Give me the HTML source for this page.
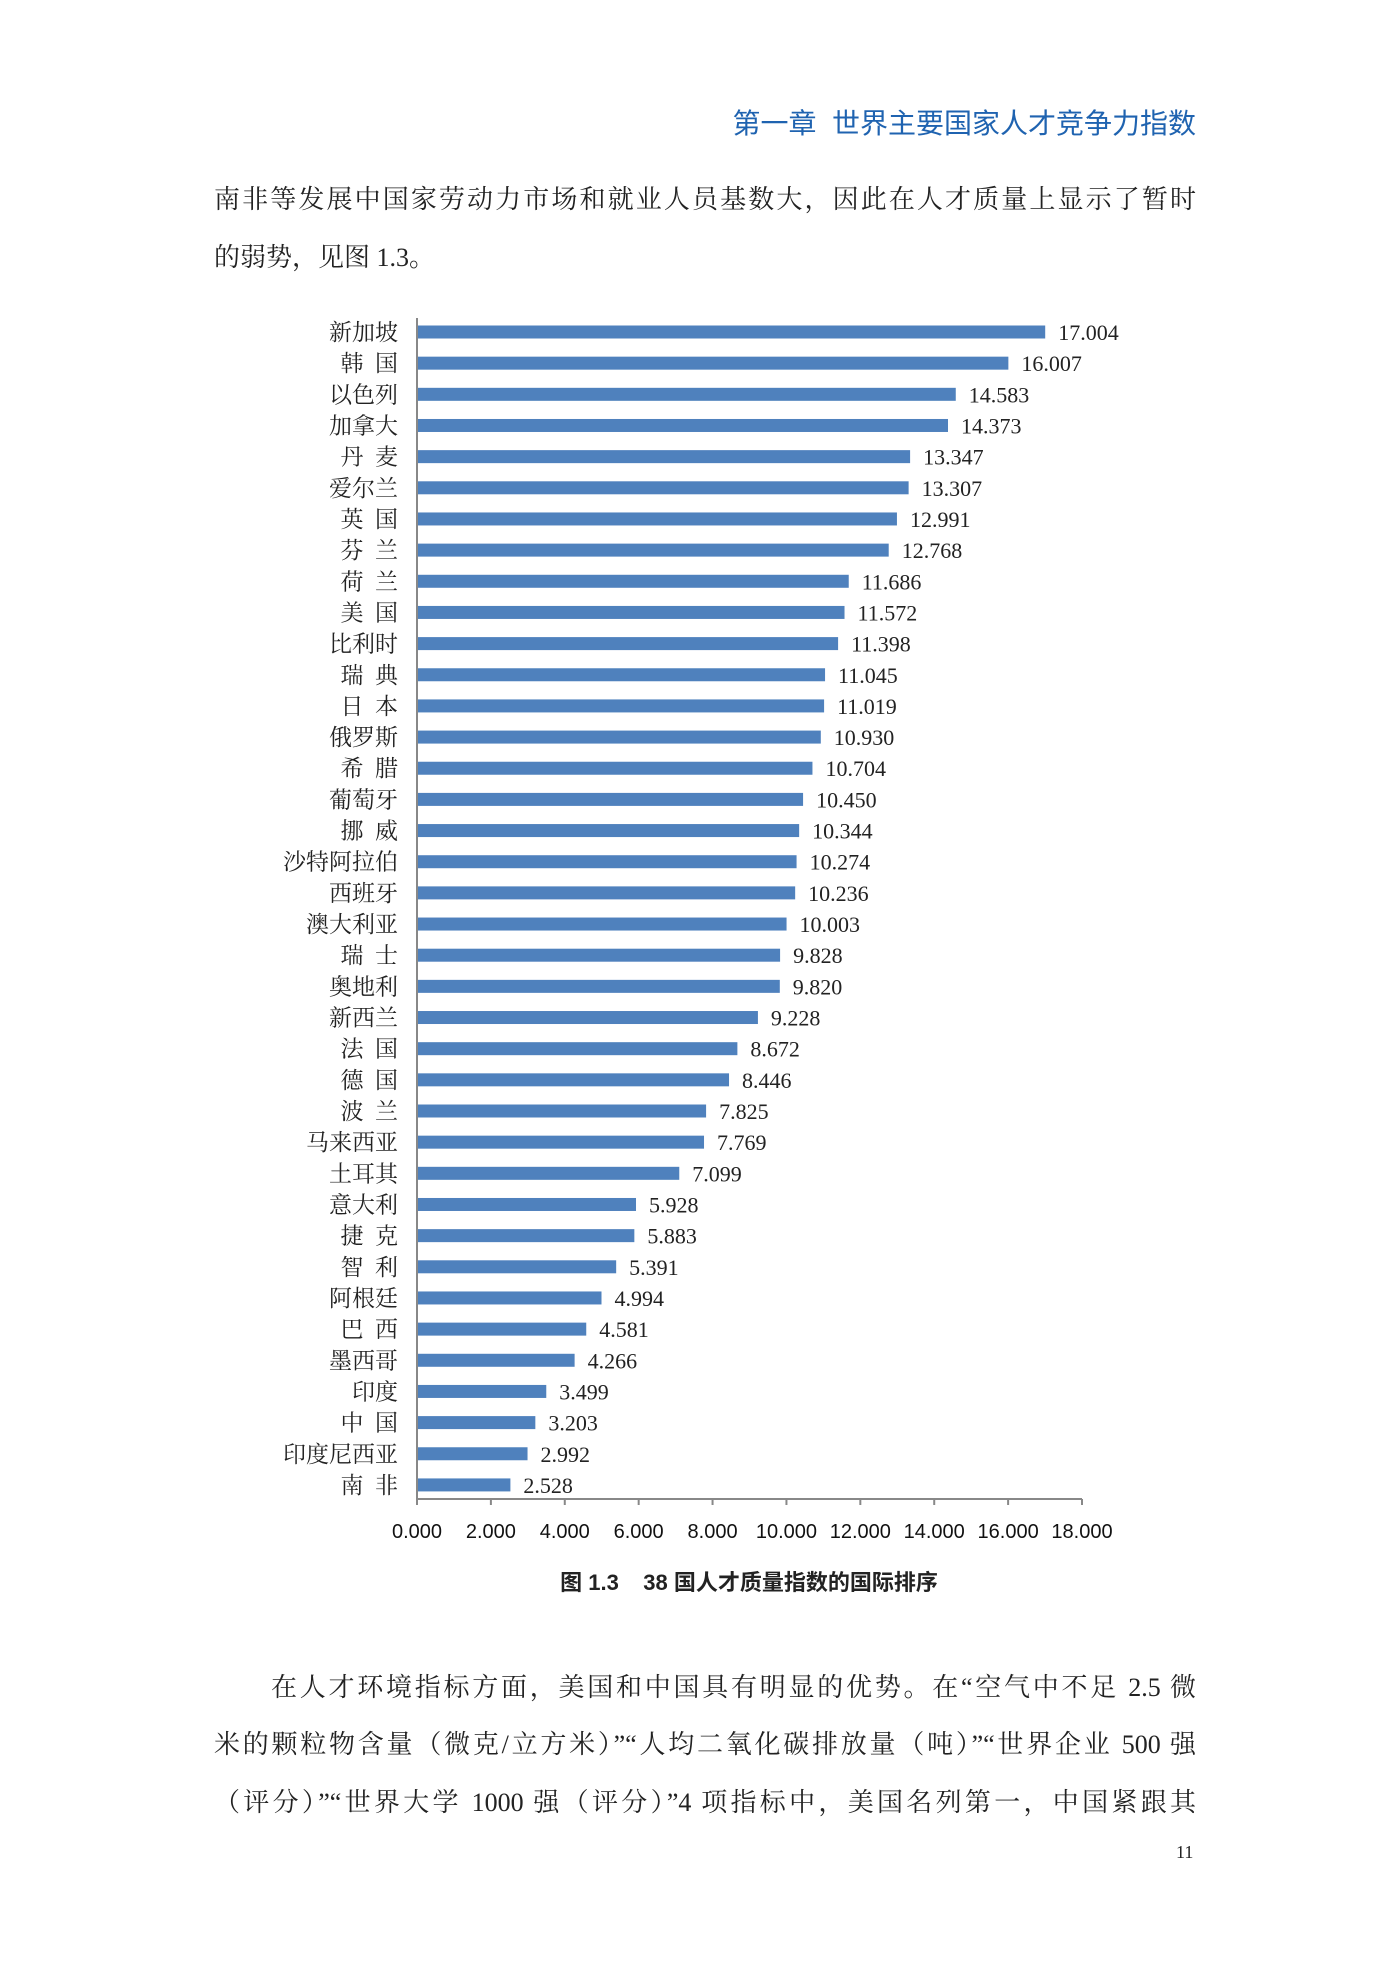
<!DOCTYPE html>
<html><head><meta charset="utf-8"><style>
body{margin:0;background:#fff;}
#page{position:relative;width:1400px;height:1980px;background:#fff;font-family:"Liberation Serif","Noto Serif CJK SC","Noto Sans CJK SC",serif;color:#222;}
.hdr{position:absolute;right:204px;top:102px;font-family:"Liberation Sans","Noto Sans CJK SC",sans-serif;font-size:28px;color:#1f63b0;}
.ln{position:absolute;left:214px;width:982px;font-size:26px;text-align:justify;text-align-last:justify;white-space:nowrap;line-height:30px;}
.ln.last{text-align-last:left;}
.pn{position:absolute;left:1176px;top:1842px;font-size:18px;}
svg{position:absolute;left:0;top:0;}
</style></head><body>
<div id="page">
<div class="hdr">第一章&nbsp;&nbsp;世界主要国家人才竞争力指数</div>
<div class="ln" style="top:185px">南非等发展中国家劳动力市场和就业人员基数大，因此在人才质量上显示了暂时</div>
<div class="ln last" style="top:243px">的弱势，见图 1.3。</div>
<svg id="chart" width="1400" height="1980"></svg>
<div class="ln" style="top:1673px;left:271px;width:925px">在人才环境指标方面，美国和中国具有明显的优势。在“空气中不足 2.5 微</div>
<div class="ln" style="top:1730px">米的颗粒物含量（微克/立方米）”“人均二氧化碳排放量（吨）”“世界企业 500 强</div>
<div class="ln" style="top:1788px">（评分）”“世界大学 1000 强（评分）”4 项指标中，美国名列第一，中国紧跟其</div>
<div class="pn">11</div>
</div>
<script>
const categories=["新加坡","韩 国","以色列","加拿大","丹 麦","爱尔兰","英 国","芬 兰","荷 兰","美 国","比利时","瑞 典","日 本","俄罗斯","希 腊","葡萄牙","挪 威","沙特阿拉伯","西班牙","澳大利亚","瑞 士","奥地利","新西兰","法 国","德 国","波 兰","马来西亚","土耳其","意大利","捷 克","智 利","阿根廷","巴 西","墨西哥","印度","中 国","印度尼西亚","南 非"];
const values=[17.004,16.007,14.583,14.373,13.347,13.307,12.991,12.768,11.686,11.572,11.398,11.045,11.019,10.930,10.704,10.450,10.344,10.274,10.236,10.003,9.828,9.820,9.228,8.672,8.446,7.825,7.769,7.099,5.928,5.883,5.391,4.994,4.581,4.266,3.499,3.203,2.992,2.528];
const ticks=[0,2,4,6,8,10,12,14,16,18];
const svg=document.getElementById('chart');
const NS='http://www.w3.org/2000/svg';
const X0=417,X1=1082,XMAX=18,Y0=332,DY=31.16,AXB=1499;
const x=v=>X0+(X1-X0)*v/XMAX;
const y=i=>Y0+i*DY;
function mk(t,a){const e=document.createElementNS(NS,t);for(const k in a)e.setAttribute(k,a[k]);svg.appendChild(e);return e;}
categories.forEach((c,i)=>{
 const r=mk('rect',{x:X0,y:y(i)-6.5,width:x(values[i])-X0,height:13,fill:'#4f81bd'});
 
 
 const l=mk('text',{x:398,y:y(i)+8,'text-anchor':'end','font-size':23,fill:'#222','font-family':'"Liberation Serif","Noto Serif CJK SC",serif'});
 l.textContent=c.replace(' ','\u2002');
 
 
 const v=mk('text',{x:x(values[i])+13,y:y(i)+8,'font-size':22,fill:'#222','font-family':'"Liberation Serif",serif'});
 v.textContent=values[i].toFixed(3);
 
 
});
const ax=mk('line',{x1:X0,y1:318,x2:X0,y2:AXB,stroke:'#888','stroke-width':2});


const bx=mk('line',{x1:X0,y1:AXB,x2:X1,y2:AXB,stroke:'#888','stroke-width':2});


ticks.forEach(t=>{
 const tk=mk('line',{x1:x(t),y1:AXB,x2:x(t),y2:AXB+6,stroke:'#888','stroke-width':2});
 
 
 const tl=mk('text',{x:x(t),y:1538,'text-anchor':'middle','font-size':20,fill:'#111','font-family':'"Liberation Sans",sans-serif'});
 tl.textContent=t.toFixed(3);
 
 
});
const cap=mk('text',{x:749,y:1590,'text-anchor':'middle','font-size':22,'font-weight':'bold',fill:'#222','font-family':'"Liberation Sans","Noto Sans CJK SC",sans-serif'});
cap.textContent='图 1.3\u00a0\u00a0\u00a0\u00a038 国人才质量指数的国际排序';


</script>
</body></html>
